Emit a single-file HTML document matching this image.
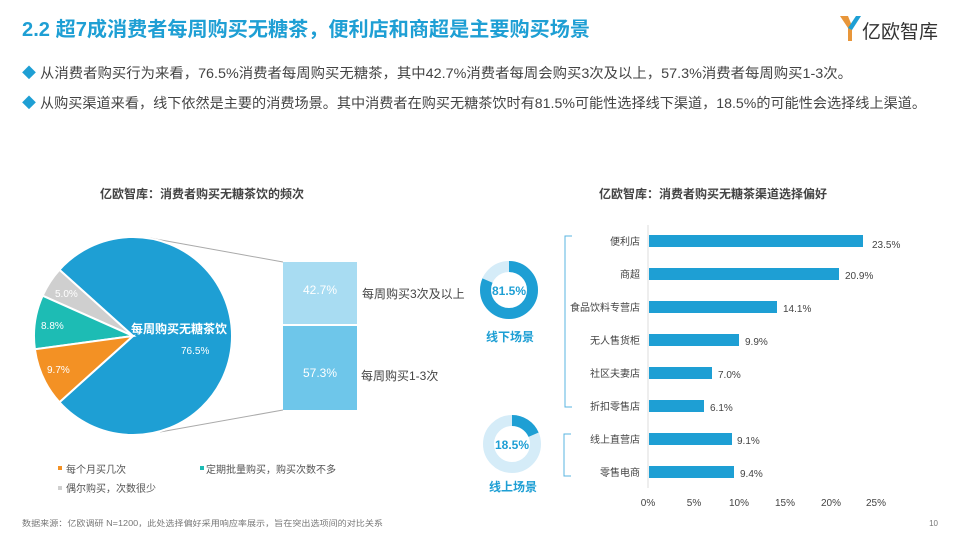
<!DOCTYPE html>
<html><head><meta charset="utf-8"><style>
body{margin:0;width:960px;height:540px;background:#fff;overflow:hidden;font-family:"Liberation Sans","Noto Sans CJK SC",sans-serif}
</style></head><body>
<svg width="960" height="540" viewBox="0 0 960 540" xmlns="http://www.w3.org/2000/svg" font-family="Liberation Sans, Noto Sans CJK SC, sans-serif">
<text x="22" y="36" font-size="20" font-weight="bold" fill="#1e9fd4" textLength="568" lengthAdjust="spacingAndGlyphs">2.2 超7成消费者每周购买无糖茶，便利店和商超是主要购买场景</text>
<path d="M840 16 L848 16 L852 26 L852 41 L848 41 L848 28 Z" fill="#e8963a"/>
<path d="M848 28 L856 16 L861 16 L852 30 Z" fill="#1e9fd4"/>
<text x="862" y="38" font-size="19" fill="#333">亿欧智库</text>
<text x="22" y="78" font-size="14" fill="#1e9fd4">◆</text>
<text x="40" y="78" font-size="14" fill="#444" textLength="812" lengthAdjust="spacingAndGlyphs">从消费者购买行为来看，76.5%消费者每周购买无糖茶，其中42.7%消费者每周会购买3次及以上，57.3%消费者每周购买1-3次。</text>
<text x="22" y="108" font-size="14" fill="#1e9fd4">◆</text>
<text x="40" y="108" font-size="14" fill="#444" textLength="886" lengthAdjust="spacingAndGlyphs">从购买渠道来看，线下依然是主要的消费场景。其中消费者在购买无糖茶饮时有81.5%可能性选择线下渠道，18.5%的可能性会选择线上渠道。</text>

<text x="202" y="198" font-size="12" font-weight="bold" fill="#444" text-anchor="middle">亿欧智库：消费者购买无糖茶饮的频次</text>
<text x="713" y="198" font-size="12" font-weight="bold" fill="#444" text-anchor="middle">亿欧智库：消费者购买无糖茶渠道选择偏好</text>

<line x1="150" y1="238" x2="283" y2="262" stroke="#aaa"/>
<line x1="160" y1="432" x2="283" y2="410" stroke="#aaa"/>
<g stroke="#fff" stroke-width="2">
<path d="M133 336 L59.4 402.2 A99 99 0 1 0 59.4 269.8 Z" fill="#1e9fd4"/>
<path d="M133 336 L59.4 269.8 A99 99 0 0 0 42.6 295.7 Z" fill="#cfcfcf"/>
<path d="M133 336 L42.6 295.7 A99 99 0 0 0 34.9 349.3 Z" fill="#1dbcb4"/>
<path d="M133 336 L34.9 349.3 A99 99 0 0 0 59.4 402.2 Z" fill="#f39124"/>
</g>
<g font-size="10" fill="#fff">
<text x="55" y="297">5.0%</text><text x="41" y="329">8.8%</text><text x="47" y="373">9.7%</text>
<text x="181" y="354">76.5%</text>
</g>
<text x="131" y="333" font-size="12" font-weight="bold" fill="#fff">每周购买无糖茶饮</text>
<rect x="283" y="262" width="74" height="62" fill="#a8dcf2"/>
<rect x="283" y="326" width="74" height="84" fill="#6ec6ea"/>
<text x="320" y="294" font-size="12" fill="#fff" text-anchor="middle">42.7%</text>
<text x="320" y="377" font-size="12" fill="#fff" text-anchor="middle">57.3%</text>
<text x="362" y="298" font-size="12" fill="#444">每周购买3次及以上</text>
<text x="361" y="380" font-size="12" fill="#444">每周购买1-3次</text>
<g font-size="10" fill="#555">
<rect x="58" y="466" width="4" height="4" fill="#f39124"/><text x="66" y="473">每个月买几次</text>
<rect x="200" y="466" width="4" height="4" fill="#1dbcb4"/><text x="206" y="473">定期批量购买，购买次数不多</text>
<rect x="58" y="486" width="4" height="4" fill="#cfcfcf"/><text x="66" y="492">偶尔购买，次数很少</text>
</g>
<text x="22" y="526" font-size="8" fill="#777" textLength="361" lengthAdjust="spacingAndGlyphs">数据来源：亿欧调研 N=1200，此处选择偏好采用响应率展示，旨在突出选项间的对比关系</text>
<text x="938" y="526" font-size="8" fill="#777" text-anchor="end">10</text>

<circle cx="509" cy="290" r="23.5" fill="none" stroke="#d5ecf8" stroke-width="11"/>
<circle cx="509" cy="290" r="23.5" fill="none" stroke="#1e9fd4" stroke-width="11" stroke-dasharray="120.3 200" transform="rotate(-90 509 290)"/>
<text x="509" y="295" font-size="12" font-weight="bold" fill="#1e9fd4" text-anchor="middle">81.5%</text>
<text x="510" y="341" font-size="12" font-weight="bold" fill="#1e9fd4" text-anchor="middle">线下场景</text>
<circle cx="512" cy="444" r="23.5" fill="none" stroke="#d5ecf8" stroke-width="11"/>
<circle cx="512" cy="444" r="23.5" fill="none" stroke="#1e9fd4" stroke-width="11" stroke-dasharray="27.3 200" transform="rotate(-90 512 444)"/>
<text x="512" y="449" font-size="12" font-weight="bold" fill="#1e9fd4" text-anchor="middle">18.5%</text>
<text x="513" y="491" font-size="12" font-weight="bold" fill="#1e9fd4" text-anchor="middle">线上场景</text>
<path d="M572 236 L565 236 L565 407 L572 407" fill="none" stroke="#5ab4e0"/>
<path d="M571 434 L564 434 L564 476 L571 476" fill="none" stroke="#5ab4e0"/>

<line x1="648" y1="225" x2="648" y2="488" stroke="#ddd"/>
<g fill="#1e9fd4">
<rect x="649" y="235" width="214" height="12"/>
<rect x="649" y="268" width="190" height="12"/>
<rect x="649" y="301" width="128" height="12"/>
<rect x="649" y="334" width="90" height="12"/>
<rect x="649" y="367" width="63" height="12"/>
<rect x="649" y="400" width="55" height="12"/>
<rect x="649" y="433" width="83" height="12"/>
<rect x="649" y="466" width="85" height="12"/>
</g>
<g font-size="10" fill="#444" text-anchor="end">
<text x="640" y="245">便利店</text><text x="640" y="278">商超</text><text x="640" y="311">食品饮料专营店</text>
<text x="640" y="344">无人售货柜</text><text x="640" y="377">社区夫妻店</text><text x="640" y="410">折扣零售店</text>
<text x="640" y="443">线上直营店</text><text x="640" y="476">零售电商</text>
</g>
<g font-size="10" fill="#444">
<text x="872" y="248">23.5%</text><text x="845" y="279">20.9%</text><text x="783" y="312">14.1%</text>
<text x="745" y="345">9.9%</text><text x="718" y="378">7.0%</text><text x="710" y="411">6.1%</text>
<text x="737" y="444">9.1%</text><text x="740" y="477">9.4%</text>
</g>
<g font-size="10" fill="#444" text-anchor="middle">
<text x="648" y="506">0%</text><text x="694" y="506">5%</text><text x="739" y="506">10%</text>
<text x="785" y="506">15%</text><text x="831" y="506">20%</text><text x="876" y="506">25%</text>
</g>
</svg>
</body></html>
